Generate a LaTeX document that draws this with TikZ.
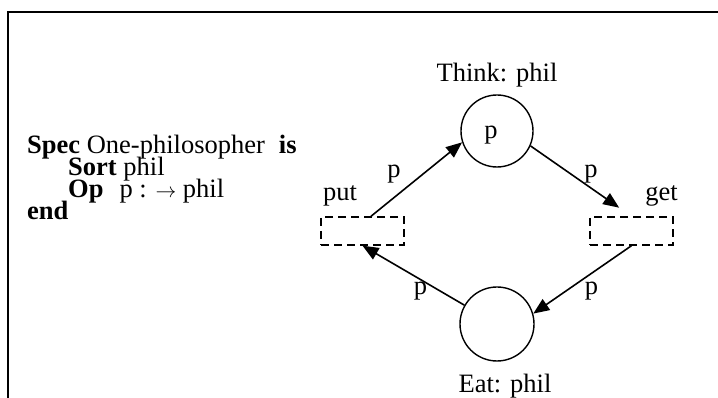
\documentclass[tikz,border=0pt]{standalone}
\usepackage{fontspec}
\setmainfont{Liberation Serif}
\usetikzlibrary{positioning,arrows.meta,calc}
\tikzset{
  place/.style={circle,draw,line width=1.4pt,minimum size=72pt,inner sep=0pt},
  transbox/.style={draw,dash pattern=on 8pt off 5pt,line width=1.4pt,
    minimum width=83pt,minimum height=28pt,inner sep=0pt},
  flow/.style={-{Triangle[length=16pt,width=13pt]},line width=1.6pt},
  lbl/.style={inner sep=0pt,font=\fontsize{26.5}{22}\selectfont},
  frame/.style={line width=2pt}
}
\newcommand{\sarrow}{{\fontsize{21}{21}\selectfont$\rightarrow$}}

\begin{document}
\begin{tikzpicture}[x=1pt,y=1pt]
  \useasboundingbox (0,0) rectangle (718,398);
  % open frame
  \coordinate (tl) at (8,386);
  \coordinate (tr) at (718,386);
  \coordinate (bl) at (8,0);
  \draw[frame] (tr) -- (tl) -- (bl);
  % specification
  \node[lbl,anchor=base west] (spec) at (27,244) {\textbf{Spec} One-philosopher\hspace{14pt}\textbf{is}};
  \node[lbl,anchor=base west] (sort) at (68,222) {\textbf{Sort} phil};
  \node[lbl,anchor=base west] (op) at (68,200) {\textbf{Op}\hspace{16pt}p : \sarrow\ phil};
  \node[lbl,anchor=base west] (endkw) at (27,178) {\textbf{end}};
  % places
  \node[place] (think) at (497,267) {};
  \node[lbl,anchor=base] (tok) at (491,259) {p};
  \node[lbl,anchor=base] (thinklbl) at (497,316) {Think: phil};
  \node[place,minimum size=74pt] (eat) at (497,74) {};
  \node[lbl,anchor=base] (eatlbl) at (505,5) {Eat: phil};
  % transitions
  \node[transbox] (put) at (362.5,167) {};
  \node[transbox] (get) at (631.5,167) {};
  \node[lbl,anchor=base] (putlbl) at (340,197) {put};
  \node[lbl,anchor=base] (getlbl) at (661.5,197) {get};
  % arcs
  \draw[flow] (put.60) -- (think.198);
  \draw[flow,shorten >=15pt] (think.-24) -- (get.north);
  \draw[flow] (get.south) -- (eat.16);
  \draw[flow] (eat.150) -- (put.south);
  \node[lbl,anchor=base] (p1) at (394,220) {p};
  \node[lbl,anchor=base] (p2) at (591,220) {p};
  \node[lbl,anchor=base] (p3) at (591.5,103) {p};
  \node[lbl,anchor=base] (p4) at (420.5,103) {p};
\end{tikzpicture}
\end{document}
